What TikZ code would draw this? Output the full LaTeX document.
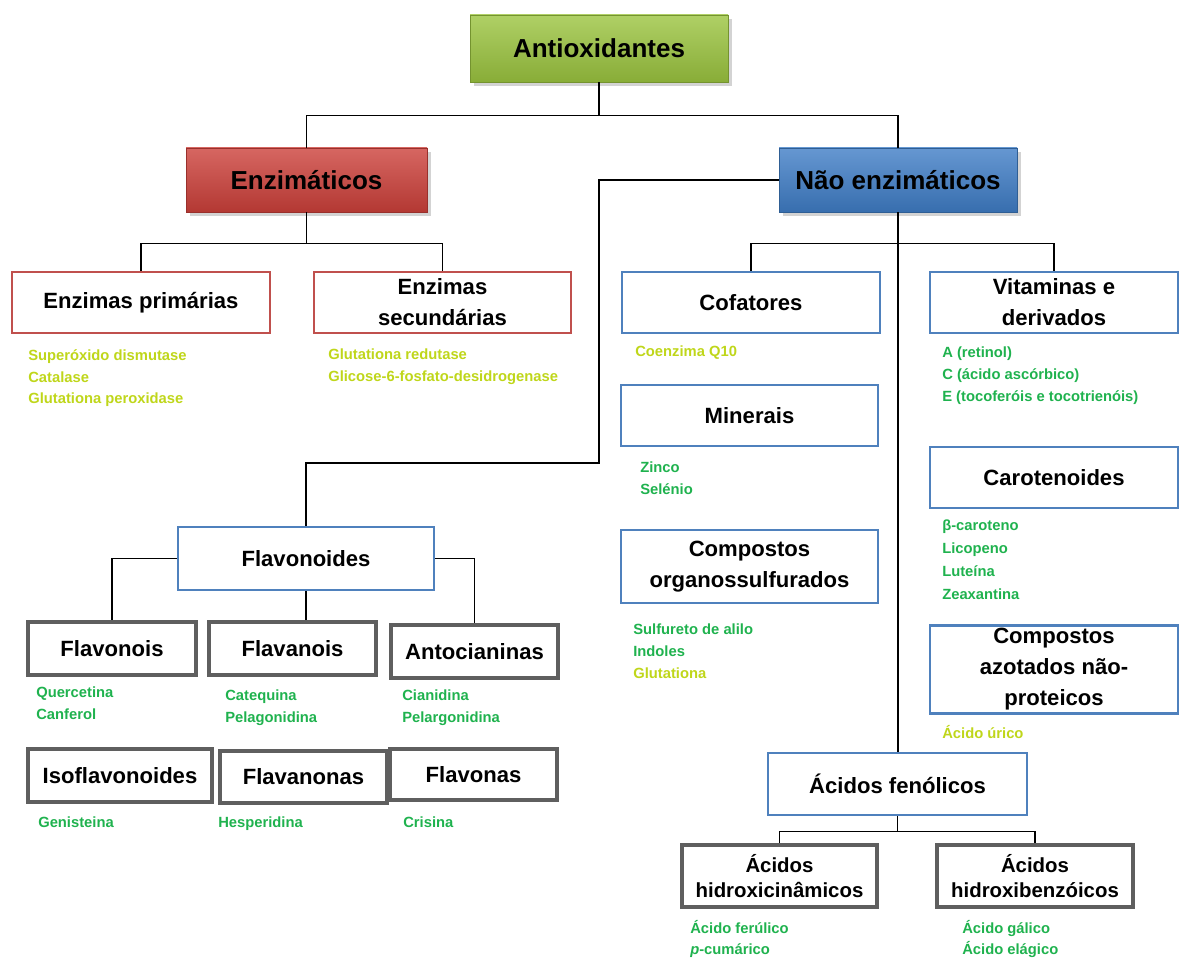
\documentclass[tikz,border=0pt]{standalone}
\usepackage{fontspec}
\setmainfont{Liberation Sans}
\usetikzlibrary{positioning, shadows}
\definecolor{antiGreen}{HTML}{9BC43F}
\definecolor{enzRed}{HTML}{CC403A}
\definecolor{nenzBlue}{HTML}{3F7DC6}
\definecolor{boxRed}{HTML}{C0504D}
\definecolor{boxBlue}{HTML}{4F81BD}
\definecolor{boxGray}{HTML}{5F5F5F}
\definecolor{itemGreen}{HTML}{1FB24E}
\definecolor{itemYellow}{HTML}{BFD61A}

\begin{document}
\begin{tikzpicture}[
    x=0.025cm, y=-0.025cm,
    sz/.style 2 args={minimum width=#1*0.025cm, minimum height=#2*0.025cm},
    head/.style={rectangle, draw=#1!75!black, top color=#1!80!white, bottom color=#1!88!black,
                 drop shadow={opacity=0.35}, font=\fontsize{18.5}{22}\selectfont\bfseries,
                 inner sep=2pt},
    sub/.style={rectangle, draw=#1, fill=white, align=center, inner sep=2pt,
                font=\fontsize{15.7}{22}\selectfont\bfseries},
    redbox/.style={sub=boxRed, line width=1.6pt},
    bluebox/.style={sub=boxBlue, line width=1.9pt},
    graybox/.style={sub=boxGray, line width=2.2pt},
    lst/.style={anchor=north west, inner sep=0pt, align=left,
                font=\fontsize{10.5}{15.6}\selectfont\bfseries, text=itemGreen},
    conn/.style={draw=black, line width=1pt},
  ]
    \useasboundingbox (0,0) rectangle (1179,958);

    % top levels
    \node[head=antiGreen, sz={258}{67}] (anti) at (599,48.5) {Antioxidantes};
    \node[head=enzRed, sz={241}{64}] (enz) at (306.5,180) {Enzimáticos};
    \node[head=nenzBlue, sz={238}{64}] (nenz) at (898,180) {Não enzimáticos};

    % enzymatic branch
    \node[redbox, sz={258}{61}] (eprim) at (141,302.5) {Enzimas primárias};
    \node[redbox, sz={257}{61}] (esec) at (442.5,302.5) {Enzimas\\secundárias};

    % non enzymatic branch
    \node[bluebox, sz={258}{61}] (cof) at (751,302.5) {Cofatores};
    \node[bluebox, sz={257}{61}] (mine) at (749.5,415.5) {Minerais};
    \node[bluebox, sz={257}{73}] (comp) at (749.5,566.5) {Compostos\\organossulfurados};
    \node[bluebox, sz={248}{61}] (vit) at (1054,302.5) {Vitaminas e\\derivados};
    \node[bluebox, sz={248}{61}] (car) at (1054,477.5) {Carotenoides};
    \node[bluebox, sz={248}{87}] (azo) at (1054,669.5) {Compostos\\azotados não-\\proteicos};
    \node[bluebox, sz={259}{62}] (fen) at (897.5,784) {Ácidos fenólicos};
    \node[graybox, sz={195}{62}, font=\fontsize{14.5}{18}\selectfont\bfseries] (hcin) at (779.5,876) {Ácidos\\hidroxicinâmicos};
    \node[graybox, sz={196}{62}, font=\fontsize{14.5}{18}\selectfont\bfseries] (hben) at (1035,876) {Ácidos\\hidroxibenzóicos};

    % flavonoids
    \node[bluebox, sz={256}{63}] (flav) at (306,558.5) {Flavonoides};
    \node[graybox, sz={168}{53}] (flvnois) at (112,648.5) {Flavonois};
    \node[graybox, sz={167}{53}] (flvanois) at (292.5,648.5) {Flavanois};
    \node[graybox, sz={167}{53}] (anto) at (474.5,651.5) {Antocianinas};
    \node[graybox, sz={184}{53}] (iso) at (120,775.5) {Isoflavonoides};
    \node[graybox, sz={167}{52}] (flvnonas) at (303.5,777) {Flavanonas};
    \node[graybox, sz={167}{51}] (flvonas) at (473.5,774.5) {Flavonas};

    % examples under each box
    \node[lst, text=itemYellow] (l-eprim) at (28,349) {Superóxido dismutase\\Catalase\\Glutationa peroxidase};
    \node[lst, text=itemYellow] (l-esec) at (328,349) {Glutationa redutase\\Glicose-6-fosfato-desidrogenase};
    \node[lst, text=itemYellow] (l-cof) at (635,346) {Coenzima Q10};
    \node[lst] (l-mine) at (640,462) {Zinco\\Selénio};
    \node[lst] (l-comp) at (633,624) {Sulfureto de alilo\\Indoles\\\textcolor{itemYellow}{Glutationa}};
    \node[lst] (l-vit) at (942,347) {A (retinol)\\C (ácido ascórbico)\\E (tocoferóis e tocotrienóis)};
    \node[lst, font=\fontsize{10.5}{16.2}\selectfont\bfseries] (l-car) at (942,520) {β-caroteno\\Licopeno\\Luteína\\Zeaxantina};
    \node[lst, text=itemYellow] (l-azo) at (942,725) {Ácido úrico};
    \node[lst, font=\fontsize{10.5}{15}\selectfont\bfseries] (l-hcin) at (690,920) {Ácido ferúlico\\\textit{p}-cumárico};
    \node[lst, font=\fontsize{10.5}{15}\selectfont\bfseries] (l-hben) at (962,920) {Ácido gálico\\Ácido elágico};
    \node[lst] (l-flvnois) at (36,687) {Quercetina\\Canferol};
    \node[lst] (l-flvanois) at (225,690) {Catequina\\Pelagonidina};
    \node[lst] (l-anto) at (402,690) {Cianidina\\Pelargonidina};
    \node[lst] (l-iso) at (38,817) {Genisteina};
    \node[lst] (l-flvnonas) at (218,817) {Hesperidina};
    \node[lst] (l-flvonas) at (403,817) {Crisina};

    % connectors
    \coordinate (bend) at (599,463);
    \draw[conn] (anti.south) -- ++(0,33) -| (enz.north);
    \draw[conn] (anti.south) -- ++(0,33) -| (nenz.north);
    \draw[conn] (enz.south) -- ++(0,31) -| (eprim.north);
    \draw[conn] (enz.south) -- ++(0,31) -| (esec.north);
    \draw[conn] (nenz.south) -- ++(0,31) -| (cof.north);
    \draw[conn] (nenz.south) -- ++(0,31) -| (vit.north);
    \draw[conn] (nenz.south) -- (nenz.south |- fen.north);
    \draw[conn] (nenz.west) -| (bend) -| (flav.north);
    \draw[conn] (flav.west) -| (flvnois.north);
    \draw[conn] (flav.east) -| (anto.north);
    \draw[conn] (flav.south) -- (flav.south |- flvanois.north);
    \draw[conn] (fen.south) -- ++(0,15) -| (hcin.north);
    \draw[conn] (fen.south) -- ++(0,15) -| (hben.north);
  \end{tikzpicture}
\end{document}
